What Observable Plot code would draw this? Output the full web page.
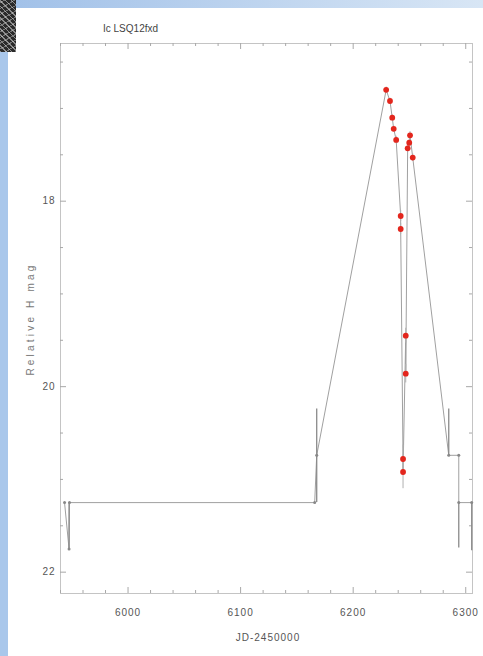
<!DOCTYPE html>
<html><head><meta charset="utf-8">
<script src="https://cdn.jsdelivr.net/npm/d3@7"></script>
<script src="https://cdn.jsdelivr.net/npm/@observablehq/plot@0.6"></script>
<style>
html,body{margin:0;padding:0;background:#fff;width:483px;height:656px;overflow:hidden;}
#wrap{position:relative;width:483px;height:656px;}
.bar-top{position:absolute;left:0;top:0;width:483px;height:8px;background:linear-gradient(to right,#a0c0e8,#d8e6f5);}
.bar-left{position:absolute;left:0;top:0;width:8px;height:656px;background:#a9c7eb;}
.noise{position:absolute;left:0;top:0;width:16px;height:52px;background-color:#2a2a2a;
 background-image:repeating-linear-gradient(45deg,rgba(220,220,220,.55) 0 1px,transparent 1px 4px),repeating-linear-gradient(-30deg,rgba(255,255,255,.35) 0 1px,transparent 1px 5px);}
#chart{position:absolute;left:0;top:0;}
.txt{position:absolute;font-family:"Liberation Sans","DejaVu Sans",sans-serif;font-size:10px;color:#555;white-space:nowrap;}
#chart svg text{letter-spacing:1px;}
</style></head>
<body>
<div id="wrap">
  <div class="bar-top"></div>
  <div class="bar-left"></div>
  <div class="noise"></div>
  <div id="chart"></div>
  <div class="txt" id="title" style="left:103px;top:23px;color:#444;">Ic LSQ12fxd</div>
  <div class="txt" id="xlab" style="left:268px;top:637px;transform:translate(-50%,-50%);letter-spacing:1px;">JD-2450000</div>
  <div class="txt" id="ylab" style="left:30px;top:319px;transform:translate(-50%,-50%) rotate(-90deg);letter-spacing:3.2px;color:#777;">Relative H mag</div>
</div>
<script>
// ---- data ----
const grayJD  = [5943.6, 5947.6, 5948.0, 6165.8, 6167.6, 6284.9, 6293.8, 6293.8, 6305.3];
const grayMag = [21.25, 21.75, 21.25, 21.25, 20.74, 20.74, 20.74, 21.25, 21.25];
const grayLo  = [null, 21.25, null, null, 20.24, 20.24, null, 21.25, 21.25];
const grayHi  = [null, 21.75, null, null, 21.25, 20.74, null, 21.74, 21.77];

const redJD  = [6229.3, 6232.7, 6234.7, 6236.0, 6238.2, 6242.2, 6242.2, 6244.3, 6244.3, 6246.7, 6246.7, 6248.4, 6249.8, 6250.5, 6252.9];
const redMag = [16.80, 16.92, 17.10, 17.22, 17.34, 18.16, 18.30, 20.78, 20.92, 19.45, 19.86, 17.43, 17.37, 17.29, 17.53];
const redErr = [0.03, 0.03, 0.03, 0.03, 0.04, 0.06, 0.06, 0.15, 0.18, 0.08, 0.10, 0.04, 0.04, 0.04, 0.04];

const xMajor = [6000, 6100, 6200, 6300];
const xMinor = [5940,5960,5980,6020,6040,6060,6080,6120,6140,6160,6180,6220,6240,6260,6280];
const yMajor = [18, 20, 22];
const yMinor = [16.5,17,17.5,18.5,19,19.5,20.5,21,21.5];
const xDomain = [5940, 6306];
const yDomain = [16.3, 22.23];

// ---- build tables ----
const gray = grayJD.map((jd,i)=>({jd, mag:grayMag[i], lo:grayLo[i], hi:grayHi[i]}));
const red = redJD.map((jd,i)=>({jd, mag:redMag[i], lo:redMag[i]-redErr[i], hi:redMag[i]+redErr[i]}));
const lineData = [...gray, ...red].sort((a,b)=>a.jd-b.jd);
const grayErr = gray.filter(d=>d.lo!=null);

const W=483,H=656,mL=60,mR=11,mT=43,mB=63;
const pw=W-mL-mR, ph=H-mT-mB;
const tickCol="#a8a8a8";
const chart = Plot.plot({
  width:W, height:H, marginLeft:mL, marginRight:mR, marginTop:mT, marginBottom:mB,
  style:{background:"transparent", fontFamily:"Liberation Sans, DejaVu Sans, sans-serif", fontSize:"10px", color:"#555"},
  x:{domain:xDomain},
  y:{domain:yDomain, reverse:true},
  marks:[
    Plot.frame({stroke:"#c4c4c4"}),
    Plot.tickX(xMinor,{x:d=>d, stroke:tickCol, insetTop:ph-3}),
    Plot.tickX(xMinor,{x:d=>d, stroke:tickCol, insetBottom:ph-3}),
    Plot.tickX(xMajor,{x:d=>d, stroke:tickCol, insetTop:ph-6}),
    Plot.tickX(xMajor,{x:d=>d, stroke:tickCol, insetBottom:ph-6}),
    Plot.tickY(yMinor,{y:d=>d, stroke:tickCol, insetRight:pw-3}),
    Plot.tickY(yMinor,{y:d=>d, stroke:tickCol, insetLeft:pw-3}),
    Plot.tickY(yMajor,{y:d=>d, stroke:tickCol, insetRight:pw-6}),
    Plot.tickY(yMajor,{y:d=>d, stroke:tickCol, insetLeft:pw-6}),
    Plot.axisX(xMajor,{tickSize:0, tickPadding:15, label:null, tickFormat:d=>String(d), fill:"#555"}),
    Plot.axisY(yMajor,{tickSize:0, tickPadding:5, label:null, tickFormat:d=>String(d), fill:"#555"}),
    Plot.line(lineData,{x:"jd", y:"mag", stroke:"#a0a0a0", strokeWidth:1}),
    Plot.ruleX(grayErr,{x:"jd", y1:"lo", y2:"hi", stroke:"#8a8a8a", strokeWidth:1.3}),
    Plot.ruleX(red,{x:"jd", y1:"lo", y2:"hi", stroke:"#b0b0b0", strokeWidth:1}),
    Plot.dot(gray,{x:"jd", y:"mag", r:1.5, fill:"#888"}),
    Plot.dot(red,{x:"jd", y:"mag", r:2.9, fill:"#e3261d"})
  ]
});
document.getElementById("chart").appendChild(chart);
</script>
</body></html>
